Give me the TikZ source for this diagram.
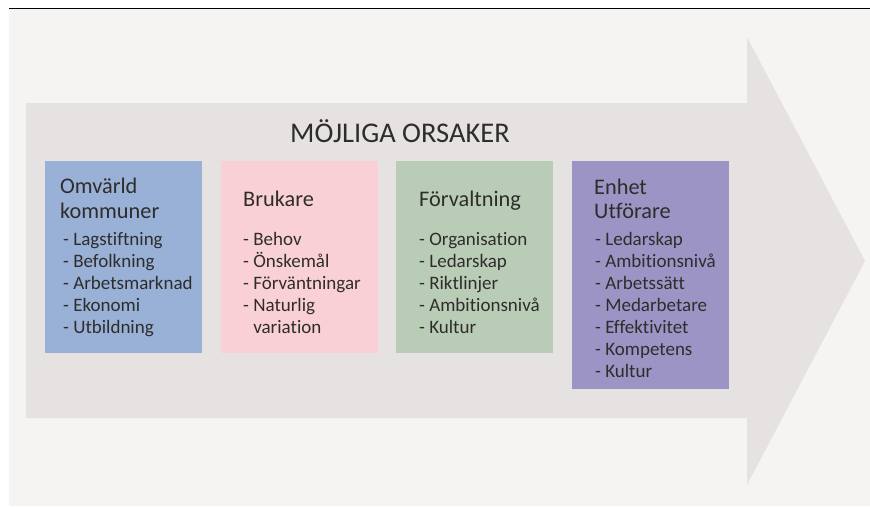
\documentclass[tikz,border=0pt]{standalone}
\usepackage{fontspec}
\setmainfont{Carlito}[Ligatures=NoCommon]
\definecolor{bgcol}{HTML}{F5F4F2}
\definecolor{arrowcol}{HTML}{E6E2E1}
\definecolor{bluecol}{HTML}{99B1D6}
\definecolor{pinkcol}{HTML}{F9D0D6}
\definecolor{greencol}{HTML}{B9CCB6}
\definecolor{purplecol}{HTML}{9B94C4}
\definecolor{txtcol}{HTML}{2F2D2B}
\tikzset{
  box/.style={draw=none, inner sep=0pt, anchor=north west, minimum width=157pt},
  head/.style={anchor=north west, inner sep=0pt, align=left, text=txtcol, font=\fontsize{22.3}{24.5}\selectfont},
  items/.style={anchor=north west, inner sep=0pt, align=left, text=txtcol, font=\fontsize{19}{22}\selectfont},
  title/.style={inner sep=0pt, text=txtcol, font=\fontsize{28.5}{32}\selectfont}
}
\begin{document}
\begin{tikzpicture}[x=1pt,y=-1pt]
\useasboundingbox (0,0) rectangle (870,506);
\fill[white] (0,0) rectangle (870,506);
\fill[bgcol] (9,9) rectangle (870,506);
\draw[black, line width=1.2pt] (9,8.6) -- (870,8.6);
\fill[arrowcol] (26,103) -- (747,103) -- (747,37) -- (865,261) -- (747,485) -- (747,418) -- (26,418) -- cycle;
\node[title] (title) at (400,131) {MÖJLIGA ORSAKER};
\node[box, fill=bluecol, minimum height=192pt] (b1) at (45,161) {};
\node[box, fill=pinkcol, minimum height=192pt] (b2) at (221,161) {};
\node[box, fill=greencol, minimum height=192pt] (b3) at (396,161) {};
\node[box, fill=purplecol, minimum height=228pt] (b4) at (572,161) {};
\node[head] (h1) at (60,176.2) {\strut Omvärld\\kommuner};
\node[head] (h2) at (243,188.9) {\strut Brukare};
\node[head] (h3) at (419,188.9) {\strut Förvaltning};
\node[head] (h4) at (594,176.9) {\strut Enhet\\Utförare};
\node[items] (i1) at (63,229.6) {\strut - Lagstiftning\\- Befolkning\\- Arbetsmarknad\\- Ekonomi\\- Utbildning};
\node[items] (i2) at (243,229.6) {\strut - Behov\\- Önskemål\\- Förväntningar\\- Naturlig\\\phantom{- }variation};
\node[items] (i3) at (419,229.6) {\strut - Organisation\\- Ledarskap\\- Riktlinjer\\- Ambitionsnivå\\- Kultur};
\node[items] (i4) at (595,229.6) {\strut - Ledarskap\\- Ambitionsnivå\\- Arbetssätt\\- Medarbetare\\- Effektivitet\\- Kompetens\\- Kultur};
\end{tikzpicture}
\end{document}
